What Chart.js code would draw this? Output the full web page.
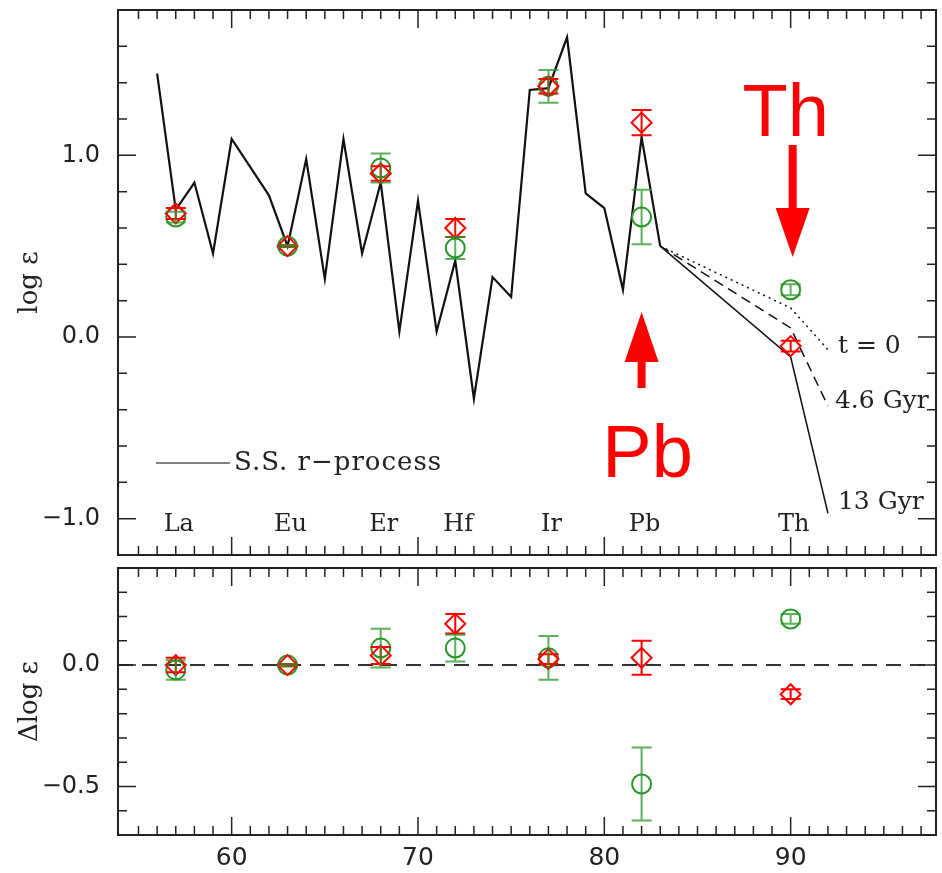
<!DOCTYPE html>
<html>
<head>
<meta charset="utf-8">
<script src="https://cdn.jsdelivr.net/npm/chart.js@4.4.1/dist/chart.umd.min.js"></script>
<style>
  html, body { margin: 0; padding: 0; background: #fff; }
  #wrap { position: relative; width: 942px; height: 873px; }
  canvas { position: absolute; left: 0; }
  #topChart { top: 0; }
  #botChart { top: 560px; }
</style>
</head>
<body>
<div id="wrap">
  <canvas id="topChart" width="942" height="560"></canvas>
  <canvas id="botChart" width="942" height="313"></canvas>
</div>
<script>
// Solar-system r-process abundances (atomic number Z vs log eps)
var ssZ   = [56, 57, 58, 59, 60, 62, 63, 64, 65, 66, 67, 68, 69, 70, 71, 72, 73, 74, 75, 76, 77, 78, 79, 80, 81, 82, 83];
var ssLog = [1.45, 0.70, 0.85, 0.46, 1.09, 0.78, 0.50, 0.98, 0.32, 1.09, 0.46, 0.85, 0.03, 0.75, 0.03, 0.42, -0.34, 0.33, 0.22, 1.36, 1.37, 1.65, 0.79, 0.71, 0.26, 1.10, 0.50];

// Th / U decay curves
var decayZ    = [83, 90, 92];
var decayT0   = [0.50, 0.16, -0.07];
var decay46   = [0.50, 0.05, -0.38];
var decay13   = [0.50, -0.11, -0.97];
var decayText = ['t = 0', '4.6 Gyr', '13 Gyr'];

// observed elements
var obsZ     = [57, 63, 68, 72, 77, 82, 90];
var obsNames = ['La', 'Eu', 'Er', 'Hf', 'Ir', 'Pb', 'Th'];

var greenLog = [0.66, 0.50, 0.93, 0.49, 1.38, 0.66, 0.26];
var greenErr = [0.03, 0.005, 0.08, 0.06, 0.09, 0.15, 0.03];
var redLog   = [0.68, 0.50, 0.90, 0.60, 1.38, 1.18, -0.05];
var redErr   = [0.03, 0.005, 0.04, 0.05, 0.04, 0.07, 0.03];

var greenDelta    = [-0.02, 0.00, 0.07, 0.07, 0.03, -0.49, 0.19];
var greenDeltaErr = [0.04, 0.005, 0.08, 0.055, 0.09, 0.15, 0.02];
var redDelta      = [0.00, 0.00, 0.04, 0.17, 0.025, 0.03, -0.12];
var redDeltaErr   = [0.03, 0.005, 0.035, 0.04, 0.02, 0.07, 0.02];

// axes
var xRange      = [53.9, 97.8];
var xTicks      = [60, 70, 80, 90];
var yTopRange   = [-1.2, 1.8];
var yTopTicks   = [-1.0, 0.0, 1.0];
var yBotRange   = [-0.7, 0.4];
var yBotTicks   = [-0.5, 0.0];

var GREEN = 'rgb(40,150,40)';
var GREEN_BAR = 'rgba(40,150,40,0.75)';
var RED = 'rgb(255,0,0)';
var INK = '#222';
var SERIF = '"DejaVu Serif", serif';
var SANS = '"DejaVu Sans", sans-serif';

function pts(xs, ys) {
	return xs.map(function(x, i) { return { x: x, y: ys[i] }; });
}

function fmt(v) {
	return (v < 0 ? '\u2212' : '') + Math.abs(v).toFixed(1);
}

function setTicks(list) {
	return function(scale) {
		scale.ticks = list.map(function(v) { return { value: v }; });
	};
}

// drop the extra room Chart.js keeps for overhanging tick labels
function noPad(s) {
	s.paddingTop = 0;
	s.paddingBottom = 0;
	s.paddingLeft = 0;
	s.paddingRight = 0;
}

/**
 * Frame with inward major / minor ticks on all four sides.
 */
var frameTicks = {
	id: 'frameTicks',
	afterDraw: function(chart, args, opts) {
		var ctx = chart.ctx, a = chart.chartArea;
		var x = chart.scales.x, y = chart.scales.y;
		var k, v, p, len;
		ctx.save();
		ctx.strokeStyle = INK;
		ctx.lineWidth = 1.5;
		ctx.beginPath();
		for (k = Math.ceil(x.min + 0.3); k <= Math.floor(x.max - 0.3); k++) {
			p = x.getPixelForValue(k);
			len = k % 10 === 0 ? 18 : 9;
			ctx.moveTo(p, a.bottom); ctx.lineTo(p, a.bottom - len);
			ctx.moveTo(p, a.top); ctx.lineTo(p, a.top + len);
		}
		for (k = Math.ceil(y.min / opts.minor + 0.3); k <= Math.floor(y.max / opts.minor - 0.3); k++) {
			v = k * opts.minor;
			p = y.getPixelForValue(v);
			var r = v / opts.major;
			len = Math.abs(r - Math.round(r)) < 1e-6 ? 18 : 9;
			ctx.moveTo(a.left, p); ctx.lineTo(a.left + len, p);
			ctx.moveTo(a.right, p); ctx.lineTo(a.right - len, p);
		}
		ctx.stroke();
		ctx.lineWidth = 2;
		ctx.strokeRect(a.left, a.top, a.right - a.left, a.bottom - a.top);
		ctx.restore();
	}
};

/**
 * Vertical error bars with caps, read from dataset.errors.
 */
var errorBars = {
	id: 'errorBars',
	afterDatasetsDraw: function(chart) {
		var ctx = chart.ctx, x = chart.scales.x, y = chart.scales.y;
		ctx.save();
		chart.data.datasets.forEach(function(ds) {
			if (!ds.errors) return;
			ctx.strokeStyle = ds.barColor;
			ctx.lineWidth = 2;
			ds.data.forEach(function(d, i) {
				var px = x.getPixelForValue(d.x);
				var y1 = y.getPixelForValue(d.y + ds.errors[i]);
				var y2 = y.getPixelForValue(d.y - ds.errors[i]);
				ctx.beginPath();
				ctx.moveTo(px, y1); ctx.lineTo(px, y2);
				ctx.moveTo(px - 10, y1); ctx.lineTo(px + 10, y1);
				ctx.moveTo(px - 10, y2); ctx.lineTo(px + 10, y2);
				ctx.stroke();
			});
		});
		ctx.restore();
	}
};

/**
 * Texts and red arrows of the upper panel.
 */
var topNotes = {
	id: 'topNotes',
	afterDraw: function(chart) {
		var ctx = chart.ctx, x = chart.scales.x, y = chart.scales.y;
		ctx.save();
		ctx.fillStyle = INK;
		ctx.textBaseline = 'middle';

		// element names along the bottom
		ctx.font = '24px ' + SERIF;
		ctx.textAlign = 'center';
		obsNames.forEach(function(n, i) {
			ctx.fillText(n, x.getPixelForValue(obsZ[i]) + 3, y.getPixelForValue(-1.0) + 6);
		});

		// legend
		ctx.strokeStyle = '#555';
		ctx.lineWidth = 1.5;
		ctx.beginPath();
		ctx.moveTo(156, 463); ctx.lineTo(230, 463);
		ctx.stroke();
		ctx.textAlign = 'left';
		ctx.font = '26px ' + SERIF;
		ctx.letterSpacing = '1px';
		ctx.fillText('S.S. r\u2212process', 234, 463);
		ctx.letterSpacing = '0px';

		// decay curve labels
		ctx.font = '25px ' + SERIF;
		var ends = [decayT0, decay46, decay13];
		var dx = [10, 7, 10];
		var dy = [0, -2, -8];
		decayText.forEach(function(t, i) {
			var z = decayZ[decayZ.length - 1];
			ctx.fillText(t, x.getPixelForValue(z) + dx[i], y.getPixelForValue(ends[i][ends[i].length - 1]) - 3 + dy[i]);
		});

		// red arrows and labels
		ctx.fillStyle = RED;
		var thX = x.getPixelForValue(90) + 2;
		arrow(ctx, thX, 145, 257, 208);
		var pbX = x.getPixelForValue(82);
		arrow(ctx, pbX, 387, 312, 362);
		ctx.font = '74px "Liberation Sans", Arial, sans-serif';
		ctx.textAlign = 'center';
		ctx.textBaseline = 'alphabetic';
		ctx.fillText('Th', thX - 7, 136);
		ctx.fillText('Pb', pbX + 6, 477);
		ctx.restore();
	}
};

function arrow(ctx, cx, tail, tip, base) {
	ctx.fillRect(cx - 4, Math.min(tail, base), 8, Math.abs(base - tail) + 1);
	ctx.beginPath();
	ctx.moveTo(cx - 17, base);
	ctx.lineTo(cx + 17, base);
	ctx.lineTo(cx, tip);
	ctx.closePath();
	ctx.fill();
}

var tickFont = { family: SANS, size: 24 };
var titleFont = { family: SERIF, size: 26 };

function yAxis(range, ticks, title) {
	return {
		min: range[0],
		max: range[1],
		afterBuildTicks: setTicks(ticks),
		afterFit: function(s) { s.width = 118; noPad(s); },
		grid: { display: false, drawTicks: false },
		border: { display: false },
		ticks: { padding: 18, color: INK, font: tickFont, callback: fmt },
		title: { display: true, text: title, color: INK, font: titleFont, padding: { top: 15, bottom: 0 } }
	};
}

var marker = function(ds, color, style, radius) {
	ds.pointStyle = style;
	ds.pointRadius = radius;
	ds.pointBorderColor = color;
	ds.pointBackgroundColor = 'rgba(0,0,0,0)';
	ds.pointBorderWidth = 2;
	ds.showLine = false;
	return ds;
};

var topChart = new Chart(document.getElementById('topChart'), {
	type: 'scatter',
	data: {
		datasets: [
			marker({ label: 'red', data: pts(obsZ, redLog), errors: redErr, barColor: RED }, RED, 'rectRot', 10),
			marker({ label: 'green', data: pts(obsZ, greenLog), errors: greenErr, barColor: GREEN_BAR }, GREEN, 'circle', 9.5),
			{ label: 'S.S. r-process', data: pts(ssZ, ssLog), showLine: true, borderColor: '#111', borderWidth: 2.2, pointRadius: 0 },
			{ label: 't = 0', data: pts(decayZ, decayT0), showLine: true, borderColor: '#111', borderWidth: 1.5, borderDash: [2, 4], pointRadius: 0 },
			{ label: '4.6 Gyr', data: pts(decayZ, decay46), showLine: true, borderColor: '#111', borderWidth: 1.5, borderDash: [10, 6], pointRadius: 0 },
			{ label: '13 Gyr', data: pts(decayZ, decay13), showLine: true, borderColor: '#111', borderWidth: 1.5, pointRadius: 0 }
		]
	},
	options: {
		responsive: false,
		animation: false,
		devicePixelRatio: 1,
		layout: { autoPadding: false, padding: { top: 10, right: 6, bottom: 5, left: 0 } },
		plugins: {
			legend: { display: false },
			tooltip: { enabled: false },
			frameTicks: { minor: 0.2, major: 1.0 }
		},
		scales: {
			x: { type: 'linear', min: xRange[0], max: xRange[1], display: false, afterFit: noPad },
			y: yAxis(yTopRange, yTopTicks, 'log \u03B5')
		}
	},
	plugins: [frameTicks, errorBars, topNotes]
});

var botChart = new Chart(document.getElementById('botChart'), {
	type: 'scatter',
	data: {
		datasets: [
			marker({ label: 'red', data: pts(obsZ, redDelta), errors: redDeltaErr, barColor: RED }, RED, 'rectRot', 10),
			marker({ label: 'green', data: pts(obsZ, greenDelta), errors: greenDeltaErr, barColor: GREEN_BAR }, GREEN, 'circle', 9.5),
			{ label: 'zero', data: pts(xRange, [0, 0]), showLine: true, borderColor: '#333', borderWidth: 2, borderDash: [15, 9], pointRadius: 0 }
		]
	},
	options: {
		responsive: false,
		animation: false,
		devicePixelRatio: 1,
		layout: { autoPadding: false, padding: { top: 8, right: 6, bottom: 0, left: 0 } },
		plugins: {
			legend: { display: false },
			tooltip: { enabled: false },
			frameTicks: { minor: 0.1, major: 0.5 }
		},
		scales: {
			x: {
				type: 'linear',
				min: xRange[0],
				max: xRange[1],
				afterBuildTicks: setTicks(xTicks),
				afterFit: function(s) { s.height = 38; noPad(s); },
				grid: { display: false, drawTicks: false },
				border: { display: false },
				ticks: { padding: 8, color: INK, font: { family: SANS, size: 25 } }
			},
			y: yAxis(yBotRange, yBotTicks, '\u0394log \u03B5')
		}
	},
	plugins: [frameTicks, errorBars]
});
</script>
</body>
</html>
